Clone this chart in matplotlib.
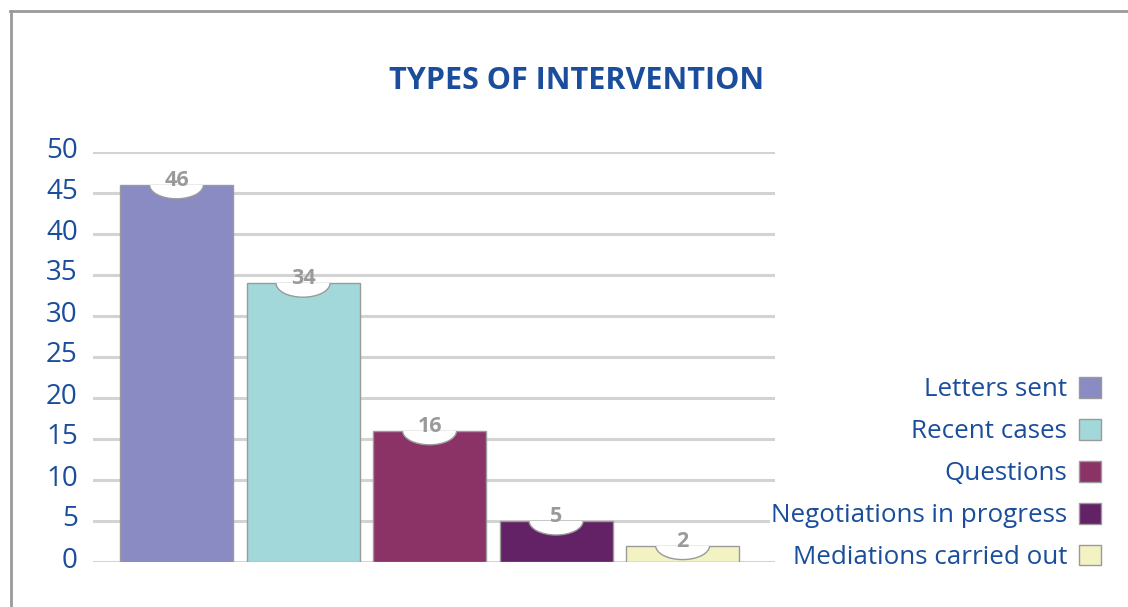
import matplotlib
matplotlib.use("Agg")
import matplotlib.pyplot as plt
from matplotlib.patches import Ellipse
from matplotlib.lines import Line2D
from matplotlib.transforms import ScaledTranslation

categories = ["Letters sent", "Recent cases", "Questions",
              "Negotiations in progress", "Mediations carried out"]
values = [46, 34, 16, 5, 2]
colors = ["#8a8bc3", "#a3d8da", "#8b3366", "#642266", "#f2f2c3"]
yticks = [0, 5, 10, 15, 20, 25, 30, 35, 40, 45, 50]
title = "TYPES OF INTERVENTION"

BLUE = "#1a4d9c"
GRAY = "#9a9a9a"
FONT = "Open Sans"

fig = plt.figure(figsize=(11.28, 6.07), dpi=100)
ax = fig.add_axes([93/1128, (607-562)/607, (775-93)/1128, (562-152)/607])

x = list(range(len(values)))
bars = ax.bar(x, values, width=0.893, color=colors, edgecolor=GRAY,
              linewidth=1.0, zorder=3)

ax.set_xlim(-0.66, 4.73)
ax.set_ylim(0, 50)
ax.set_yticks(yticks)
ax.set_xticks([])
ax.yaxis.grid(True, color="#d3d3d3", linewidth=2.2, zorder=0)
ax.set_axisbelow(True)
for s in ax.spines.values():
    s.set_visible(False)
ax.tick_params(axis="y", length=0, pad=11, labelsize=20, labelcolor=BLUE)
shift = ScaledTranslation(0, 5/100, fig.dpi_scale_trans)
for lab in ax.get_yticklabels():
    lab.set_fontfamily(FONT)
    lab.set_transform(lab.get_transform() + shift)

px_per_unit = 410 / 50.0
notch_h = 2 * 14 / px_per_unit
notch_w = 54 / 126.5
for xi, v, b in zip(x, values, bars):
    e = Ellipse((xi, v), width=notch_w, height=notch_h, facecolor="white",
                edgecolor=GRAY, linewidth=1.0, zorder=4)
    ax.add_patch(e)
    e.set_clip_path(b)
    ax.text(xi, v + 0.55, str(v), ha="center", va="center", color=GRAY,
            fontsize=15.5, fontweight="bold", fontfamily=FONT, zorder=5)

fig.text(577/1128, 1 - 81/607, title, ha="center", va="center",
         color=BLUE, fontsize=22, fontweight="bold", fontfamily=FONT)

leg = ax.legend(bars, categories, loc="center right",
                bbox_to_anchor=(1101/1128, 1 - 473.5/607),
                bbox_transform=fig.transFigure, frameon=False,
                markerfirst=False, handlelength=0.85, handleheight=0.85,
                labelspacing=0.64, handletextpad=0.45, borderaxespad=0,
                borderpad=0, prop={"family": FONT, "size": 18.7})
for t in leg.get_texts():
    t.set_color(BLUE)
    t.set_ha("right")
    t.set_bbox(dict(facecolor="white", edgecolor="none", pad=1))
leg._legend_box.align = "right"

# outer frame (top and left edges)
fig.add_artist(Line2D([10/1128, 1.0], [1 - 11/607, 1 - 11/607],
                      color=GRAY, linewidth=2, transform=fig.transFigure))
fig.add_artist(Line2D([11/1128, 11/1128], [1 - 11/607, 0.0],
                      color=GRAY, linewidth=2, transform=fig.transFigure))

fig.savefig("out.png", dpi=100)
